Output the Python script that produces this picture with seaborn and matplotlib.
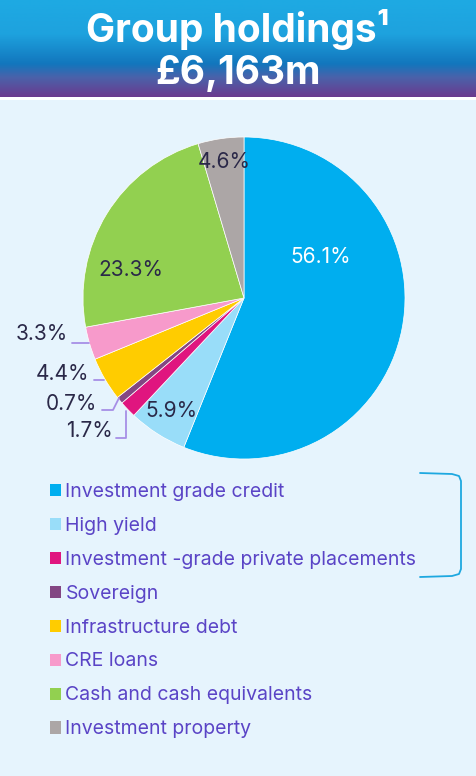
import numpy as np
import matplotlib.pyplot as plt
import seaborn as sns
from matplotlib.colors import LinearSegmentedColormap
from matplotlib.lines import Line2D
from matplotlib.patches import Patch

sns.set_theme(style="white")
plt.rcParams["font.family"] = ["Inter", "DejaVu Sans"]

W, H = 476, 776

categories = [
    "Investment grade credit",
    "High yield",
    "Investment -grade private placements",
    "Sovereign",
    "Infrastructure debt",
    "CRE loans",
    "Cash and cash equivalents",
    "Investment property",
]
shares = [56.1, 5.9, 1.7, 0.7, 4.4, 3.3, 23.3, 4.6]
colors = ["#00AEEF", "#99DDF9", "#E0157F", "#834683", "#FFCC00", "#F79ACB",
          "#92D050", "#ACA6A6"]
labels = [f"{v:.1f}%" for v in shares]

BG = "#E6F4FD"
LABEL_C = "#2A2848"
LEGEND_C = "#5A44C6"
LINE_C = "#A68FE6"


def fx(px):
    return px / W


def fy(py):
    return 1 - py / H


fig = plt.figure(figsize=(W / 100, H / 100), dpi=100)
fig.patch.set_facecolor(BG)

# header gradient
hdr = fig.add_axes([0, fy(97), 1, 97 / H])
grad = LinearSegmentedColormap.from_list(
    "hdr", [(0, "#1EAAE3"), (0.35, "#1EA2DE"), (0.66, "#1276BD"),
            (0.8, "#4A62AA"), (1, "#6B3A8E")])
hdr.imshow(np.linspace(0, 1, 200).reshape(-1, 1), aspect="auto", cmap=grad,
           extent=[0, 1, 1, 0])
hdr.set_xlim(0, 1)
hdr.set_ylim(1, 0)
hdr.axis("off")
fig.add_artist(plt.Rectangle((0, fy(100)), 1, 3 / H, transform=fig.transFigure,
                             color="white", lw=0))

fig.text(0.5, fy(30), "Group holdings\u00b9", color="white", fontsize=28,
         fontweight="bold", ha="center", va="center")
fig.text(0.5, fy(73), "£6,163m", color="white", fontsize=28,
         fontweight="bold", ha="center", va="center")

# pie
cx, cy, r = 244, 298, 161
ax = fig.add_axes([fx(cx - r), fy(cy + r), 2 * r / W, 2 * r / H])
ax.pie(shares, colors=colors, startangle=90, counterclock=False, radius=1,
       wedgeprops=dict(edgecolor="white", linewidth=0.5))
ax.set_xlim(-1, 1)
ax.set_ylim(-1, 1)
ax.set_aspect("auto")
ax.axis("off")

# percentage labels (pixel positions of text centres)
label_pos = {
    0: (321, 257, "white"),
    1: (171, 411, LABEL_C),
    2: (89, 431, LABEL_C),
    3: (71, 404, LABEL_C),
    4: (62, 374, LABEL_C),
    5: (42, 334, LABEL_C),
    6: (131, 270, LABEL_C),
    7: (224, 162, LABEL_C),
}
for i, (px, py, c) in label_pos.items():
    fig.text(fx(px), fy(py), labels[i], color=c, fontsize=15, ha="center",
             va="center")

# leader lines
leaders = [
    [(72, 343), (89, 343)],
    [(94, 380), (104, 380)],
    [(102, 410), (113, 410), (119, 398)],
    [(116, 438), (126, 438), (126, 411)],
]
for pts in leaders:
    xs, ys = zip(*pts)
    fig.add_artist(Line2D([fx(x) for x in xs], [fy(y) for y in ys],
                          transform=fig.transFigure, color=LINE_C, lw=1.3))

# legend
handles = [Patch(facecolor=c, edgecolor="none") for c in colors]
leg = fig.legend(handles, categories, loc="upper left",
                 bbox_to_anchor=(fx(42), fy(475)), frameon=False, fontsize=14,
                 handlelength=0.58, handleheight=0.58, handletextpad=0.22,
                 labelspacing=0.82, borderaxespad=0)
for t in leg.get_texts():
    t.set_color(LEGEND_C)

# bracket
bx = [420, 452, 459, 461, 461, 459, 452, 420]
by = [473, 474, 476, 481, 569, 574, 576, 577]
fig.add_artist(Line2D([fx(x) for x in bx], [fy(y) for y in by],
                      transform=fig.transFigure, color="#1EA8E0", lw=1.3))

fig.savefig("out.png", dpi=100, facecolor=BG)
